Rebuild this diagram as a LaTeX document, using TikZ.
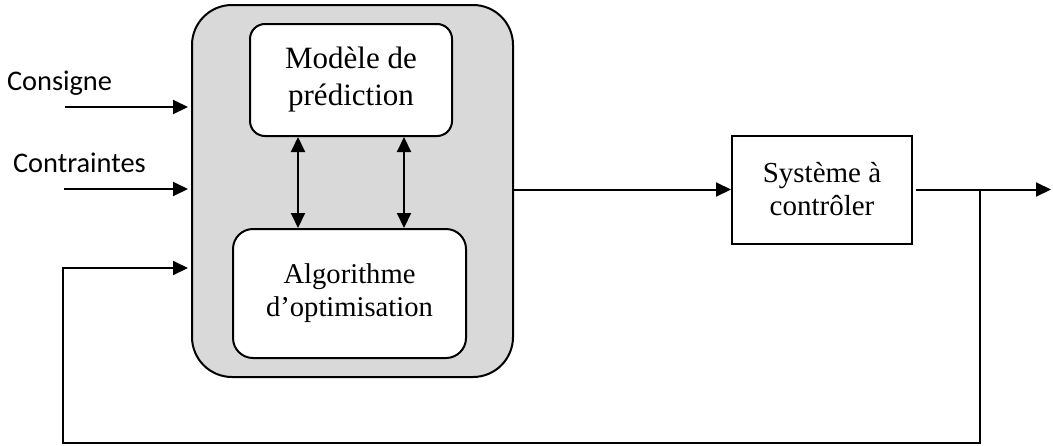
\documentclass[tikz,border=0pt]{standalone}
\usepackage{fontspec}
\setmainfont{Liberation Serif}
\newfontfamily\calibrifont{Carlito}
\usetikzlibrary{arrows.meta,calc}
\begin{document}
\begin{tikzpicture}[x=0.5pt,y=-0.5pt,
  line width=1pt,
  arr/.style={-{Triangle[length=7.5pt,width=7pt]}},
  darr/.style={{Triangle[length=7.5pt,width=7pt]}-{Triangle[length=7.5pt,width=7pt]}},
  graybox/.style={draw, fill=gray!30, rounded corners=20pt, minimum width=160.5pt, minimum height=186pt, inner sep=0pt},
  inbox/.style={draw, fill=white, align=center, inner sep=0pt},
  sysbox/.style={draw, fill=white, align=center, inner sep=0pt, minimum width=90pt, minimum height=54pt},
  lbl/.style={anchor=base west, inner sep=0pt, font=\calibrifont\fontsize{14.2pt}{17pt}\selectfont}
]
\useasboundingbox (0,0) rectangle (1053,445);

\node[graybox] (mpc) at (352.5,191) {};
\node[inbox, rounded corners=7.5pt, minimum width=101pt, minimum height=56pt,
      font=\fontsize{15.5pt}{18.5pt}\selectfont] (pred) at (351,80) {Modèle de\\prédiction};
\node[inbox, rounded corners=10pt, minimum width=116.5pt, minimum height=64.5pt,
      font=\fontsize{14.3pt}{16.5pt}\selectfont] (optim) at (349.5,293.5) {Algorithme\\d’optimisation};
\node[sysbox, font=\fontsize{14.5pt}{16.5pt}\selectfont] (sys) at (822,189.5) {Système à\\contrôler};

\node[lbl] (consigne) at (6,90) {Consigne};
\node[lbl] (contraintes) at (12,172) {Contraintes};

\coordinate (cin) at (65,107);
\coordinate (kin) at (64,189);
\coordinate (tap) at (980,189.5);
\coordinate (outend) at (1051,189.5);
\coordinate (fbr) at (980,443);
\coordinate (fbl) at (63,443);
\coordinate (fbin) at (63,268);

\draw[arr, shorten >=1.5pt] (cin) -- (cin -| mpc.west);
\draw[arr, shorten >=1.5pt] (kin) -- (kin -| mpc.west);
\draw[arr, shorten >=1.5pt] (tap) -- (fbr) -- (fbl) -- (fbin) -- (fbin -| mpc.west);

\draw[darr] (pred.south -| 298,0) -- (optim.north -| 298,0);
\draw[darr] (pred.south -| 404,0) -- (optim.north -| 404,0);

\draw[arr] (mpc.east |- sys.west) -- (sys.west);
\draw[arr, shorten <=1.5pt] (sys.east) -- (outend);
\end{tikzpicture}
\end{document}
